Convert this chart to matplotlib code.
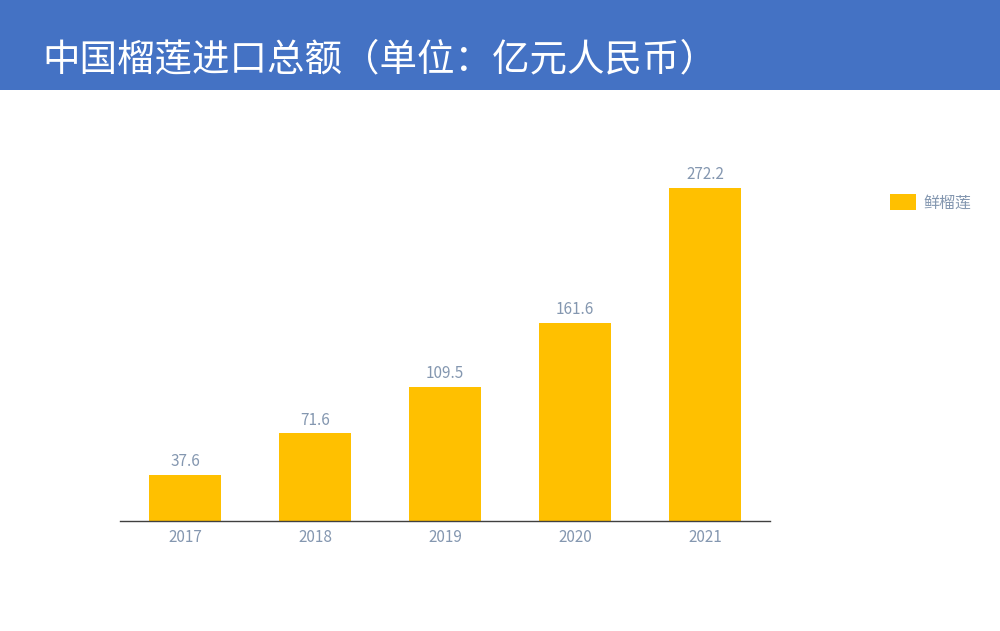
import matplotlib
matplotlib.use('Agg')
import matplotlib.pyplot as plt
from matplotlib.patches import Rectangle

plt.rcParams['font.family'] = ['Noto Sans CJK SC', 'DejaVu Sans']

# 数据
years = ['2017', '2018', '2019', '2020', '2021']
values = [37.6, 71.6, 109.5, 161.6, 272.2]
series_name = '鲜榴莲'
title = '中国榴莲进口总额（单位：亿元人民币）'

bar_color = '#FFC000'
text_color = '#8497B0'

fig = plt.figure(figsize=(10, 6.31), dpi=100)

# 顶部蓝色标题栏
fig.patches.append(Rectangle((0, 1 - 90 / 631), 1, 90 / 631, transform=fig.transFigure,
                             facecolor='#4472C4', edgecolor='none', zorder=0))
fig.text(0.042, 1 - 60 / 631, title, color='white', fontsize=27, fontweight='light',
         va='center', ha='left')

ax = fig.add_axes([0.12, (631 - 521) / 631, 0.65, 367 / 631])
x = range(len(years))
bars = ax.bar(x, values, width=0.55, color=bar_color, label=series_name)
ax.set_xlim(-0.5, len(years) - 0.5)
ax.set_ylim(0, 300)
ax.set_xticks(list(x))
ax.set_xticklabels(years, color=text_color, fontsize=11, fontweight='light')
ax.tick_params(axis='x', length=0, pad=6)
ax.set_yticks([])
for s in ['top', 'right', 'left']:
    ax.spines[s].set_visible(False)
ax.spines['bottom'].set_color('#404040')
ax.spines['bottom'].set_linewidth(1)

for b, v in zip(bars, values):
    ax.text(b.get_x() + b.get_width() / 2, v + 4, f'{v:.1f}', ha='center', va='bottom',
            color=text_color, fontsize=11, fontweight='light')

leg = fig.legend(loc='center left', bbox_to_anchor=(0.876, 1 - 203 / 631), frameon=False,
                 handlelength=1.6, handleheight=1.1, labelcolor=text_color,
                 handletextpad=0.5, prop={'size': 11.5, 'weight': 'light'})

fig.savefig('out.png', dpi=100)
